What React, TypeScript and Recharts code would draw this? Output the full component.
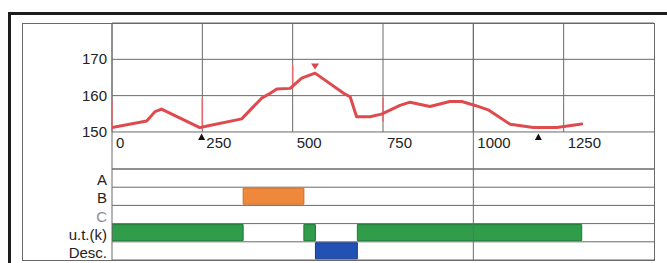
import React from 'react';
import {
  LineChart,
  Line,
  XAxis,
  YAxis,
  CartesianGrid,
  ReferenceLine,
  ReferenceDot,
  BarChart,
  Bar,
  Cell,
} from 'recharts';

// ---- profile line ----
const lineX = [0, 96, 119, 137, 243, 257, 359, 414, 437, 456, 493, 525, 562, 645, 659, 677, 714, 746, 797, 825, 880, 935, 968, 1005, 1041, 1102, 1166, 1231, 1300];
const lineY = [151.2, 153.0, 155.6, 156.3, 151.2, 151.5, 153.6, 159.3, 160.6, 161.8, 162.0, 164.8, 166.2, 160.4, 159.7, 154.2, 154.2, 154.9, 157.3, 158.2, 157.0, 158.4, 158.4, 157.3, 156.1, 152.1, 151.2, 151.2, 152.2];

const xTicks = [0, 250, 500, 750, 1000, 1250];
const yTicks = [150, 160, 170];
const fullGridX = [0, 1000];

const breakX = [0, 250, 500, 750];
const breakLow = [151.2, 151.2, 162.0, 152.8];
const breakHigh = [158.3, 159.4, 168.5, 159.4];

const peakMarkerX = 562;
const peakMarkerY = 168;
const lowMarkerX = [248, 1180];

// ---- bands ----
const rowNames = ['A', 'B', 'C', 'u.t.(k)', 'Desc.'];
const rowSegments: number[][][] = [
  [],
  [[363, 531]],
  [],
  [[0, 363], [531, 563], [679, 1300]],
  [[563, 679]],
];
const rowFill = ['#999999', '#F0883C', '#999999', '#2F9D49', '#2251B4'];
const rowStroke = ['#777777', '#D06A25', '#777777', '#1F7A35', '#17398A'];
const rowLabelColor = ['#222222', '#222222', '#8c8c8c', '#222222', '#222222'];

const FONT = '"Liberation Sans", Arial, sans-serif';
const GRID = '#6a6a6a';
const SEGS = 3;

const lineData = lineX.map((x, i) => ({ x, y: lineY[i] }));

const barData = rowNames.map((name, i) => {
  const r: any = { name };
  let prev = 0;
  for (let k = 0; k < SEGS; k++) {
    const seg = rowSegments[i][k];
    if (seg) {
      r['g' + k] = seg[0] - prev;
      r['f' + k] = seg[1] - seg[0];
      prev = seg[1];
    } else {
      r['g' + k] = 0;
      r['f' + k] = 0;
    }
  }
  return r;
});

const XTick = (props: any) => {
  const { x, y, payload } = props;
  return (
    <text x={x + 4} y={y - 21} fontSize={15} fontFamily={FONT} fill="#222" textAnchor="start">
      {payload.value}
    </text>
  );
};

const YTick = (props: any) => {
  const { x, y, payload } = props;
  return (
    <text x={x} y={y + 5} fontSize={15} fontFamily={FONT} fill="#222" textAnchor="end">
      {payload.value}
    </text>
  );
};

const RowTick = (props: any) => {
  const { x, y, payload } = props;
  const idx = rowNames.indexOf(payload.value);
  return (
    <text x={x} y={y + 7} fontSize={15} fontFamily={FONT} fill={rowLabelColor[idx]} textAnchor="end">
      {payload.value}
    </text>
  );
};

const DownTri = (props: any) => {
  const { cx, cy } = props;
  return <polygon points={`${cx - 4},${cy - 3} ${cx + 4},${cy - 3} ${cx},${cy + 3}`} fill="#D9484E" />;
};

const UpTri = (props: any) => {
  const { cx, cy } = props;
  return <polygon points={`${cx},${cy + 1.5} ${cx - 3.5},${cy + 8} ${cx + 3.5},${cy + 8}`} fill="#111" />;
};

export default function App() {
  return (
    <div style={{ position: 'absolute', left: 0, top: 0, width: 667, height: 263, background: '#fff', overflow: 'hidden' }}>
      {/* outer thick frame */}
      <div
        style={{
          position: 'absolute',
          left: 8,
          top: 12,
          width: 700,
          height: 300,
          borderTop: '3px solid #1c1c1c',
          borderLeft: '3px solid #1c1c1c',
          boxSizing: 'border-box',
        }}
      />
      {/* inner frame */}
      <div
        style={{
          position: 'absolute',
          left: 22,
          top: 23,
          width: 633,
          height: 238,
          border: `1px solid ${GRID}`,
          boxSizing: 'border-box',
        }}
      />
      <div style={{ position: 'absolute', left: 0, top: 0 }}>
        <LineChart width={667} height={199} data={lineData} margin={{ top: 23, right: 13, bottom: 0, left: 0 }}>
          <CartesianGrid vertical={false} stroke={GRID} />
          <XAxis
            dataKey="x"
            type="number"
            domain={[0, 1500]}
            ticks={xTicks}
            interval={0}
            height={30}
            axisLine={false}
            tickLine={false}
            tickSize={0}
            tickMargin={0}
            tick={<XTick />}
            allowDataOverflow
          />
          <YAxis
            type="number"
            domain={[139.8, 180]}
            ticks={yTicks}
            interval={0}
            width={112}
            axisLine={false}
            tickLine={false}
            tickSize={0}
            tickMargin={5}
            tick={<YTick />}
            allowDataOverflow
          />
          {xTicks.map((v) => (
            <ReferenceLine
              key={'g' + v}
              segment={[
                { x: v, y: 150 },
                { x: v, y: 180 },
              ]}
              stroke={GRID}
              strokeWidth={1}
            />
          ))}
          {fullGridX.map((v) => (
            <ReferenceLine key={'f' + v} x={v} stroke={GRID} strokeWidth={1} />
          ))}
          {breakX.map((v, i) => (
            <ReferenceLine
              key={'b' + v}
              segment={[
                { x: v, y: breakLow[i] },
                { x: v, y: breakHigh[i] },
              ]}
              stroke="#E4686D"
              strokeWidth={1.5}
            />
          ))}
          <Line
            dataKey="y"
            type="linear"
            stroke="#DF4A4F"
            strokeWidth={3}
            dot={false}
            activeDot={false}
            strokeLinejoin="round"
            strokeLinecap="round"
            isAnimationActive={false}
          />
          <ReferenceDot x={peakMarkerX} y={peakMarkerY} r={4} shape={<DownTri />} ifOverflow="visible" />
          {lowMarkerX.map((v) => (
            <ReferenceDot key={'m' + v} x={v} y={150} r={4} shape={<UpTri />} ifOverflow="visible" />
          ))}
        </LineChart>
      </div>
      <div style={{ position: 'absolute', left: 0, top: 160 }}>
        <BarChart
          layout="vertical"
          width={667}
          height={103}
          data={barData}
          margin={{ top: 9, right: 13, bottom: 3, left: 0 }}
          barCategoryGap={1}
        >
          <CartesianGrid
            vertical={false}
            stroke={GRID}
            horizontalCoordinatesGenerator={(p: any) =>
              Array.from({ length: rowNames.length + 1 }, (_, i) => p.offset.top + (i * p.offset.height) / rowNames.length)
            }
          />
          <XAxis type="number" domain={[0, 1500]} hide allowDataOverflow />
          <YAxis
            type="category"
            dataKey="name"
            width={112}
            interval={0}
            axisLine={false}
            tickLine={false}
            tickSize={0}
            tickMargin={5}
            tick={<RowTick />}
          />
          {fullGridX.map((v) => (
            <ReferenceLine key={'lf' + v} x={v} stroke={GRID} strokeWidth={1} />
          ))}
          {Array.from({ length: SEGS }).flatMap((_, k) => [
            <Bar key={'g' + k} dataKey={'g' + k} stackId="s" fill="transparent" isAnimationActive={false} />,
            <Bar key={'f' + k} dataKey={'f' + k} stackId="s" strokeWidth={1} isAnimationActive={false}>
              {barData.map((_, i) => (
                <Cell key={i} fill={rowFill[i]} stroke={rowStroke[i]} />
              ))}
            </Bar>,
          ])}
        </BarChart>
      </div>
    </div>
  );
}
